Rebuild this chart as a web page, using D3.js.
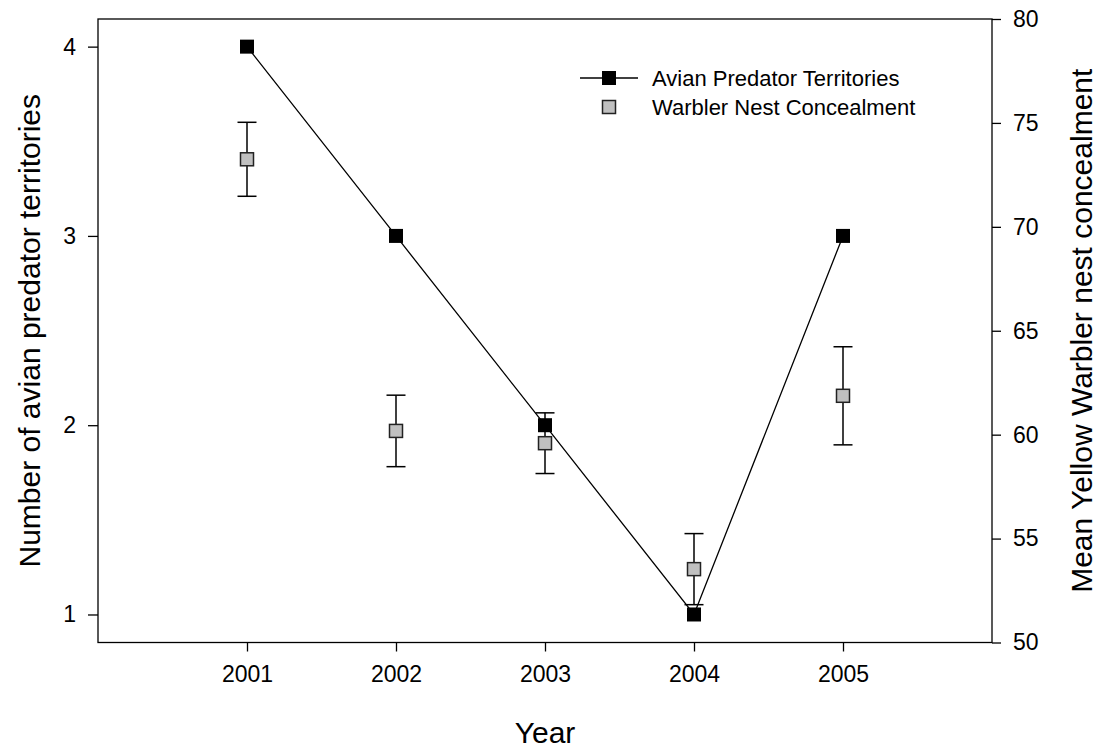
<!DOCTYPE html>
<html>
<head>
<meta charset="utf-8">
<script src="https://cdn.jsdelivr.net/npm/d3@7"></script>
<style>
  body { margin: 0; background: #fff; }
  svg { font-family: "Liberation Sans", Arial, sans-serif; }
</style>
</head>
<body>
<div id="canvas"></div>
<script>
"use strict"

/* Data */
let years = [2001, 2002, 2003, 2004, 2005];
let predatorTerritories = [4, 3, 2, 1, 3];
let nestConcealment = [73.25, 60.18, 59.59, 53.53, 61.87];
let concealmentErr = [1.78, 1.72, 1.46, 1.71, 2.36];
let leftTicks = [1, 2, 3, 4];
let rightTicks = [50, 55, 60, 65, 70, 75, 80];
let seriesNames = ["Avian Predator Territories", "Warbler Nest Concealment"];

/* Drawing configuration */
let svgWidth = 1100;
let svgHeight = 749;
let plotLeft = 98, plotRight = 992, plotTop = 19, plotBottom = 642.5;

let svg = d3.select("#canvas")
    .append("svg")
    .attr("width", svgWidth)
    .attr("height", svgHeight);

/* Scales */
let xScale = d3.scaleLinear()
    .domain([2000, 2006])
    .range([plotLeft, plotRight]);

let yLeft = d3.scaleLinear()
    .domain([0.852, 4.146])
    .range([plotBottom, plotTop]);

let yRight = d3.scaleLinear()
    .domain([50, 80])
    .range([plotBottom, plotTop]);

/* Frame */
svg.append("rect")
    .attr("x", plotLeft)
    .attr("y", plotTop)
    .attr("width", plotRight - plotLeft)
    .attr("height", plotBottom - plotTop)
    .attr("fill", "none")
    .attr("stroke", "black")
    .attr("stroke-width", 1.3);

/* Axes */
let xAxis = svg.append("g")
    .attr("transform", "translate(0," + plotBottom + ")")
    .call(d3.axisBottom(xScale).tickValues(years).tickFormat(d3.format("d")).tickSize(9).tickPadding(14));

let leftAxis = svg.append("g")
    .attr("transform", "translate(" + plotLeft + ",0)")
    .call(d3.axisLeft(yLeft).tickValues(leftTicks).tickFormat(d3.format("d")).tickSize(10).tickPadding(12));

let rightAxis = svg.append("g")
    .attr("transform", "translate(" + plotRight + ",0)")
    .call(d3.axisRight(yRight).tickValues(rightTicks).tickSize(9).tickPadding(12));

[xAxis, leftAxis, rightAxis].forEach(function (g) {
    g.select(".domain").remove();
    g.selectAll(".tick line").attr("stroke", "black").attr("stroke-width", 1.3);
    g.selectAll(".tick text")
        .attr("fill", "black")
        .style("font-size", "23px")
        .style("font-family", "'Liberation Sans', Arial, sans-serif");
});

/* Axis titles */
svg.append("text")
    .attr("x", (plotLeft + plotRight) / 2)
    .attr("y", 743)
    .attr("text-anchor", "middle")
    .style("font-size", "30px")
    .text("Year");

svg.append("text")
    .attr("transform", "translate(40," + ((plotTop + plotBottom) / 2) + ") rotate(-90)")
    .attr("text-anchor", "middle")
    .style("font-size", "30px")
    .text("Number of avian predator territories");

svg.append("text")
    .attr("transform", "translate(1070," + ((plotTop + plotBottom) / 2) + ") rotate(-90)")
    .attr("text-anchor", "middle")
    .attr("dominant-baseline", "hanging")
    .style("font-size", "30px")
    .text("Mean Yellow Warbler nest concealment");

/* Predator line */
let line = d3.line()
    .x(function (d, i) { return xScale(years[i]); })
    .y(function (d) { return yLeft(d); });

svg.append("path")
    .datum(predatorTerritories)
    .attr("d", line)
    .attr("fill", "none")
    .attr("stroke", "black")
    .attr("stroke-width", 1.3);

/* Error bars for concealment */
let capHalf = 9.5;
let errGroup = svg.append("g").attr("stroke", "black").attr("stroke-width", 1.5);
years.forEach(function (yr, i) {
    let x = xScale(yr);
    let hi = yRight(nestConcealment[i] + concealmentErr[i]);
    let lo = yRight(nestConcealment[i] - concealmentErr[i]);
    errGroup.append("line").attr("x1", x).attr("x2", x).attr("y1", hi).attr("y2", lo);
    errGroup.append("line").attr("x1", x - capHalf).attr("x2", x + capHalf).attr("y1", hi).attr("y2", hi);
    errGroup.append("line").attr("x1", x - capHalf).attr("x2", x + capHalf).attr("y1", lo).attr("y2", lo);
});

/* Concealment markers */
let sq = 13;
svg.selectAll(".conceal")
    .data(nestConcealment)
    .join("rect")
    .attr("class", "conceal")
    .attr("x", function (d, i) { return xScale(years[i]) - sq / 2; })
    .attr("y", function (d) { return yRight(d) - sq / 2; })
    .attr("width", sq)
    .attr("height", sq)
    .attr("fill", "#c0c0c0")
    .attr("stroke", "#222")
    .attr("stroke-width", 1.5);

/* Predator markers */
let bsq = 14;
svg.selectAll(".pred")
    .data(predatorTerritories)
    .join("rect")
    .attr("class", "pred")
    .attr("x", function (d, i) { return xScale(years[i]) - bsq / 2; })
    .attr("y", function (d) { return yLeft(d) - bsq / 2; })
    .attr("width", bsq)
    .attr("height", bsq)
    .attr("fill", "black");

/* Legend */
let legendX = 609, legendY = [78, 107];
svg.append("line")
    .attr("x1", legendX - 29).attr("x2", legendX + 29)
    .attr("y1", legendY[0]).attr("y2", legendY[0])
    .attr("stroke", "black").attr("stroke-width", 1.3);
svg.append("rect")
    .attr("x", legendX - bsq / 2).attr("y", legendY[0] - bsq / 2)
    .attr("width", bsq).attr("height", bsq)
    .attr("fill", "black");
svg.append("rect")
    .attr("x", legendX - sq / 2).attr("y", legendY[1] - sq / 2)
    .attr("width", sq).attr("height", sq)
    .attr("fill", "#c0c0c0").attr("stroke", "#222").attr("stroke-width", 1.5);

for (let i = 0; i < 2; i++) {
    svg.append("text")
        .attr("x", 652)
        .attr("y", legendY[i])
        .attr("dominant-baseline", "central")
        .style("font-size", "22px")
        .text(seriesNames[i]);
}
</script>
</body>
</html>
